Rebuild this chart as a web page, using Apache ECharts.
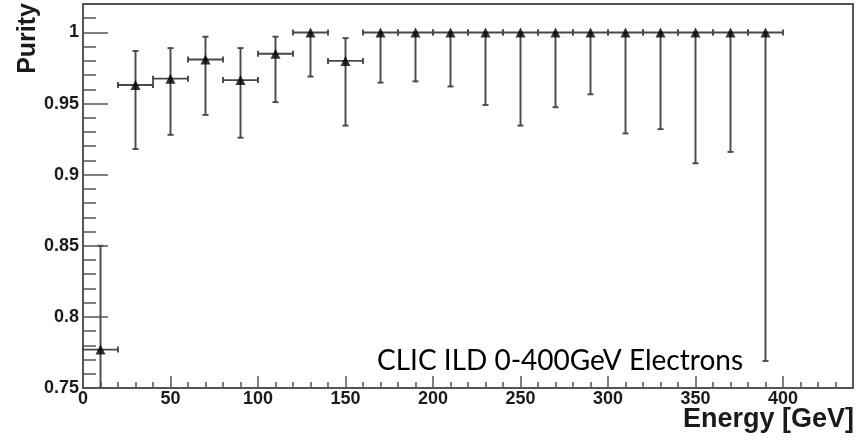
<!DOCTYPE html>
<html>
<head>
<meta charset="utf-8">
<script src="https://cdn.jsdelivr.net/npm/echarts@6/dist/echarts.min.js"></script>
<style>
  html, body { margin: 0; padding: 0; background: #fff; }
  #chart { width: 856px; height: 440px; }
</style>
</head>
<body>
<div id="chart"></div>
<script>
// bin centres [GeV], half bin width, purity and the ends of its error bars
const energy = [10, 30, 50, 70, 90, 110, 130, 150, 170, 190, 210, 230, 250, 270, 290, 310, 330, 350, 370, 390]
const energyErr = 10
const purity = [0.777, 0.963, 0.9675, 0.981, 0.9665, 0.985, 1, 0.980, 1, 1, 1, 1, 1, 1, 1, 1, 1, 1, 1, 1]
const purityHigh = [0.850, 0.987, 0.989, 0.997, 0.989, 0.997, 1, 0.996, 1, 1, 1, 1, 1, 1, 1, 1, 1, 1, 1, 1]
const purityLow = [0.700, 0.918, 0.928, 0.942, 0.926, 0.951, 0.969, 0.9345, 0.9647, 0.9656, 0.962, 0.949,
  0.9345, 0.9474, 0.9565, 0.929, 0.932, 0.908, 0.916, 0.769]
const xTicks = [0, 50, 100, 150, 200, 250, 300, 350, 400]
const yTicks = [0.75, 0.8, 0.85, 0.9, 0.95, 1]

const points = energy.map((e, i) => [e, purity[i], purityLow[i], purityHigh[i]])

const chart = echarts.init(document.getElementById('chart'))
const lineCol = '#484848'
const labelFont = { color: '#1a1a1a', fontFamily: 'Liberation Sans', fontWeight: 'bold', fontSize: 18 }

function renderErr(params, api) {
  const cs = params.coordSys
  const bottom = cs.y + cs.height
  const x = api.value(0), y = api.value(1), lo = api.value(2), hi = api.value(3)
  const pl = api.coord([x - energyErr, y])
  const pr = api.coord([x + energyErr, y])
  const pt = api.coord([x, hi])
  const pb = api.coord([x, lo])
  const st = { stroke: lineCol, lineWidth: 1.9 }
  const kids = []
  const seg = (x1, y1, x2, y2) => kids.push({ type: 'line', shape: { x1, y1, x2, y2 }, style: st })
  seg(pl[0], pl[1], pr[0], pr[1])
  seg(pl[0], pl[1] - 3, pl[0], pl[1] + 3)
  seg(pr[0], pr[1] - 3, pr[0], pr[1] + 3)
  const yb = Math.min(pb[1], bottom)
  seg(pt[0], pt[1], pb[0], yb)
  if (hi > y) seg(pt[0] - 3, pt[1], pt[0] + 3, pt[1])
  if (pb[1] < bottom) seg(pb[0] - 3, yb, pb[0] + 3, yb)
  return { type: 'group', children: kids }
}

chart.setOption({
  animation: false,
  grid: {
    left: 83, right: 3, top: 4, bottom: 52,
    show: true, borderColor: '#555', borderWidth: 2, backgroundColor: '#fff'
  },
  xAxis: {
    type: 'value', min: 0, max: 440, interval: 50,
    axisLine: { onZero: false, lineStyle: { color: '#555', width: 2 } },
    axisTick: { inside: true, length: 12, lineStyle: { color: '#555', width: 1.5 } },
    minorTick: { show: true, splitNumber: 5, length: 6, lineStyle: { color: '#555', width: 1.5 } },
    splitLine: { show: false },
    axisLabel: Object.assign({ margin: 2, formatter: v => xTicks.includes(v) ? String(v) : '' }, labelFont)
  },
  yAxis: {
    type: 'value', min: 0.75, max: 1.02, interval: 0.05,
    axisLine: { onZero: false, lineStyle: { color: '#555', width: 2 } },
    axisTick: { inside: true, length: 25, lineStyle: { color: '#555', width: 1.5 } },
    minorTick: { show: true, splitNumber: 5, length: 13, lineStyle: { color: '#555', width: 1.5 } },
    splitLine: { show: false },
    axisLabel: Object.assign({
      margin: 4,
      formatter: v => {
        const r = parseFloat(v.toFixed(2))
        return yTicks.includes(r) ? String(r) : ''
      }
    }, labelFont)
  },
  series: [{
    type: 'custom',
    renderItem: renderErr,
    data: points,
    z: 2
  }, {
    type: 'scatter',
    symbol: 'triangle',
    symbolSize: 10,
    itemStyle: { color: '#000' },
    data: points.map(p => [p[0], p[1]]),
    z: 3
  }],
  graphic: [{
    type: 'text', x: 28, y: 3, rotation: Math.PI / 2,
    style: { text: 'Purity', font: 'bold 25px "Liberation Sans"', fill: '#1a1a1a', align: 'right', verticalAlign: 'middle' }
  }, {
    type: 'text', x: 854, y: 406,
    style: { text: 'Energy [GeV]', font: 'bold 27px "Liberation Sans"', fill: '#1a1a1a', align: 'right', verticalAlign: 'top' }
  }, {
    type: 'text', x: 377, y: 347,
    style: { text: 'CLIC ILD 0-400GeV Electrons', font: '28px Lato', fill: '#000', align: 'left', verticalAlign: 'top' }
  }]
})
</script>
</body>
</html>
